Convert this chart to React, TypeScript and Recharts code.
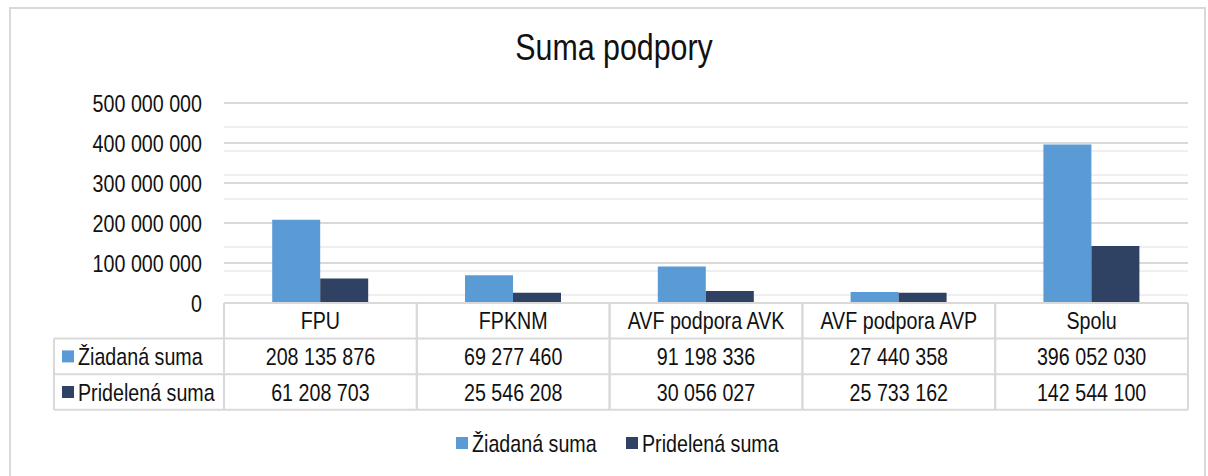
import { Bar, BarChart, CartesianGrid, Legend, XAxis, YAxis } from "recharts";

const title = "Suma podpory";
const categories = ["FPU", "FPKNM", "AVF podpora AVK", "AVF podpora AVP", "Spolu"];
const seriesNames = ["Žiadaná suma", "Pridelená suma"];
const requested = [208135876, 69277460, 91198336, 27440358, 396052030];
const granted = [61208703, 25546208, 30056027, 25733162, 142544100];
const yTicks = [0, 100000000, 200000000, 300000000, 400000000, 500000000];

const COLORS = ["#5B9BD5", "#2F4263"];
const GRID = "#D9D9D9";
const MINOR = "#EFEFEF";
const INK = "#111";
// no Arial Narrow here: squeeze Liberation Sans horizontally instead
const FONT = '"Liberation Sans", Arial, sans-serif';
const SQ = 0.82;
const FS = 24;

const W = 1208;
const H = 476;
const PLOT_LEFT = 224;
const PLOT_RIGHT = 1188;
const PLOT_TOP = 103;
const PLOT_BOTTOM = 303;
const TABLE_LEFT = 54;
const ROW_H = 35.6;
const AXIS_H = 107;
const LEGEND_H = 30;

const data = categories.map((name, i) => ({ name, requested: requested[i], granted: granted[i] }));

// light minor lines every 20 000 000
const minorLines = Array.from({ length: 26 }, (_, i) => i * 20000000);

const fmt = (v: number) => String(v).replace(/\B(?=(\d{3})+(?!\d))/g, " ");

function NText({ x, y, anchor = "start", children }: { x: number; y: number; anchor?: string; children: any }) {
  return (
    <text
      transform={`translate(${x} ${y}) scale(${SQ} 1)`}
      dy="0.36em"
      textAnchor={anchor}
      fontSize={FS}
      fontFamily={FONT}
      fill={INK}
    >
      {children}
    </text>
  );
}

function YTick(props: any) {
  const { x, y, payload } = props;
  return <NText x={x} y={y} anchor="end">{fmt(payload.value)}</NText>;
}

function TableTick(props: any) {
  const { payload } = props;
  const i: number = payload.index;
  const cx: number = payload.coordinate;
  const half: number = payload.offset || (PLOT_RIGHT - PLOT_LEFT) / categories.length / 2;
  const x0 = cx - half;
  const x1 = cx + half;
  const y0 = PLOT_BOTTOM;
  const cells = [categories[i], fmt(requested[i]), fmt(granted[i])];
  const line = { stroke: GRID, strokeWidth: 2 };
  return (
    <g>
      <line x1={x0} y1={y0} x2={x0} y2={y0 + ROW_H * 3} {...line} />
      <line x1={x1} y1={y0} x2={x1} y2={y0 + ROW_H * 3} {...line} />
      {[0, 1, 2, 3].map((r) => (
        <line key={r} x1={x0} y1={y0 + ROW_H * r} x2={x1} y2={y0 + ROW_H * r} {...line} />
      ))}
      {cells.map((t, r) => (
        <NText key={r} x={cx} y={y0 + ROW_H * r + ROW_H / 2} anchor="middle">
          {t}
        </NText>
      ))}
      {i === 0 && (
        <g>
          <line x1={TABLE_LEFT} y1={y0 + ROW_H} x2={TABLE_LEFT} y2={y0 + ROW_H * 3} {...line} />
          {[1, 2, 3].map((r) => (
            <line key={r} x1={TABLE_LEFT} y1={y0 + ROW_H * r} x2={x0} y2={y0 + ROW_H * r} {...line} />
          ))}
          {seriesNames.map((s, k) => (
            <g key={s}>
              <rect x={62} y={y0 + ROW_H * (k + 1) + ROW_H / 2 - 6} width={12} height={12} fill={COLORS[k]} />
              <NText x={78} y={y0 + ROW_H * (k + 1) + ROW_H / 2}>{s}</NText>
            </g>
          ))}
        </g>
      )}
    </g>
  );
}

const LEGEND_X = [456, 626];

function LegendBox() {
  return (
    <svg width={W} height={LEGEND_H} style={{ display: "block" }}>
      {seriesNames.map((s, k) => (
        <g key={s}>
          <rect x={LEGEND_X[k]} y={LEGEND_H / 2 - 6} width={12} height={12} fill={COLORS[k]} />
          <NText x={LEGEND_X[k] + 16} y={LEGEND_H / 2}>{s}</NText>
        </g>
      ))}
    </svg>
  );
}

export default function App() {
  return (
    <div style={{ position: "absolute", left: 0, top: 0, width: W, height: H, overflow: "hidden", background: "#fff" }}>
      <div
        style={{
          position: "absolute",
          left: 9,
          top: 7,
          width: 1193,
          height: 500,
          border: `2px solid ${GRID}`,
        }}
      />
      <div
        style={{
          position: "absolute",
          left: 0,
          top: 30,
          width: 1228,
          textAlign: "center",
          fontFamily: FONT,
          fontSize: 37,
          lineHeight: "36px",
          color: INK,
          transform: `scaleX(${SQ})`,
        }}
      >
        {title}
      </div>
      <div style={{ position: "absolute", left: 0, top: 0 }}>
        <BarChart
          width={W}
          height={H}
          data={data}
          margin={{ top: PLOT_TOP, right: W - PLOT_RIGHT, bottom: H - PLOT_BOTTOM - AXIS_H - LEGEND_H, left: 0 }}
          barCategoryGap="25%"
          barGap={0}
        >
          <CartesianGrid vertical={false} horizontalValues={minorLines} stroke={MINOR} strokeWidth={2} />
          <CartesianGrid vertical={false} horizontalValues={yTicks} stroke={GRID} strokeWidth={2} />
          <XAxis
            dataKey="name"
            height={AXIS_H}
            tickSize={0}
            tickMargin={0}
            axisLine={false}
            tick={<TableTick />}
            interval={0}
          />
          <YAxis
            width={PLOT_LEFT}
            domain={[0, 500000000]}
            ticks={yTicks}
            axisLine={false}
            tickLine={false}
            tickSize={0}
            tickMargin={22}
            tick={<YTick />}
          />
          <Legend
            verticalAlign="bottom"
            content={<LegendBox />}
            wrapperStyle={{ top: 428, left: 0, width: W, height: LEGEND_H }}
          />
          <Bar dataKey="requested" name={seriesNames[0]} fill={COLORS[0]} isAnimationActive={false} />
          <Bar dataKey="granted" name={seriesNames[1]} fill={COLORS[1]} isAnimationActive={false} />
        </BarChart>
      </div>
    </div>
  );
}
